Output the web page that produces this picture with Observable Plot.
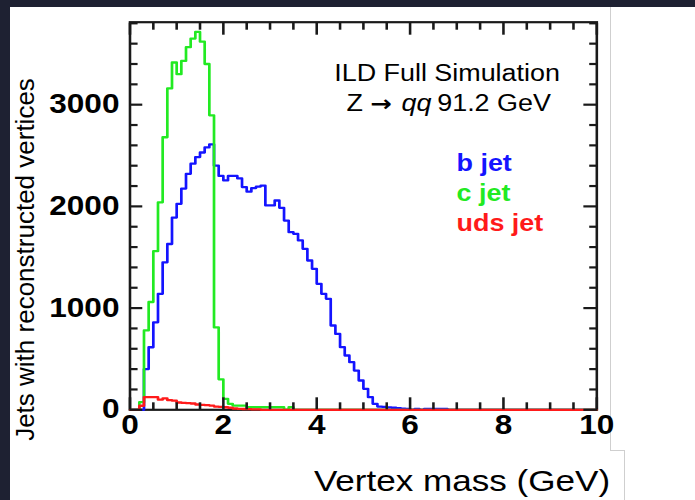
<!DOCTYPE html>
<html><head><meta charset="utf-8">
<script src="https://cdn.jsdelivr.net/npm/d3@7"></script>
<script src="https://cdn.jsdelivr.net/npm/@observablehq/plot@0.6"></script>
<style>
html,body{margin:0;padding:0;width:695px;height:500px;overflow:hidden;background:#1e2132;}
#panel{position:absolute;left:10px;top:7px;right:0;bottom:0;background:#fff;}
#chart{position:absolute;left:0;top:0;width:594px;height:500px;transform:scaleX(1.17);transform-origin:0 0;}
.edge{position:absolute;background:#cfcfcf;}
</style></head><body>
<div id="panel"></div>
<div class="edge" style="left:610px;top:7px;width:1px;height:443px"></div>
<div class="edge" style="left:610px;top:450px;width:14px;height:1px"></div>
<div class="edge" style="left:624px;top:450px;width:1px;height:50px"></div>
<div id="chart"></div>
<script>
// ---- data (histograms, 0.1 GeV bins from 0 to 10 GeV) ----
const bJet = [0,0,0,400,615,860,1140,1450,1630,1890,2025,2175,2320,2420,2485,2530,2580,2610,
  2400,2300,2255,2300,2300,2275,2190,2145,2180,2195,2205,2009,2009,2058,1986,1861,1746,1730,
  1665,1583,1468,1386,1239,1140,1091,829,746,616,534,468,386,288,206,124,59,32,28,24,20,15,12,10,
  0,8,0,8,8,8,8,8];
const cJet = [0,0,75,780,1060,1560,2040,2680,3160,3415,3300,3430,3565,3650,3715,3620,3400,2895,
  810,300,108,59,42,42,42,26,26,26,26,26,26,26,26,0,26];
const udsJet = [0,0,40,125,125,125,100,112,95,90,72,68,65,62,52,48,45,42,32,28,25,20,13,10,8,6,5,4];
const seriesNames = ["b jet", "c jet", "uds jet"];
const seriesColors = ["#1414ff", "#22ea22", "#ff1a1a"];
const xMajor = [0, 2, 4, 6, 8, 10];
const xMinor = [0.5,1,1.5,2.5,3,3.5,4.5,5,5.5,6.5,7,7.5,8.5,9,9.5];
const yMajor = [0, 1000, 2000, 3000];
const yMinor = [200,400,600,800,1200,1400,1600,1800,2200,2400,2600,2800,3200,3400,3600,3800];
const xTitle = "Vertex mass (GeV)";
const yTitle = "Jets with reconstructed vertices";
const note1 = "ILD Full Simulation";
const note2 = ["Z", "\u2192", "qq", "91.2 GeV"];

const binEdges = d3.range(0, 100).map(i => i / 10);
function rows(vals, name) {
  const r = binEdges.map((x, i) => ({x, y: vals[i] ?? 0, name}));
  r.push({x: 10, y: 0, name});
  return r;
}
const S = 1.17;
const ink = "#1a1a1a";
const tickOpts = {fill: "none", stroke: ink, strokeWidth: 2.2};
const txt = (arr, o) => Plot.text(arr, {text: d => d, frameAnchor: "top-left", lineAnchor: "bottom", textAnchor: "start", fill: "#000", ...o});

const chart = Plot.plot({
  width: 594, height: 500,
  marginLeft: 110.6, marginRight: 84.4, marginTop: 21.7, marginBottom: 90.7,
  style: {background: "transparent", fontFamily: "'Liberation Sans', Arial, sans-serif", overflow: "visible"},
  x: {domain: [0, 10]},
  y: {domain: [0, 3811]},
  marks: [
    Plot.frame({stroke: ink, strokeWidth: 2.2}),
    Plot.line(rows(bJet, seriesNames[0]), {x: "x", y: "y", curve: "step-after", stroke: seriesColors[0], strokeWidth: 2.3}),
    Plot.line(rows(cJet, seriesNames[1]), {x: "x", y: "y", curve: "step-after", stroke: seriesColors[1], strokeWidth: 2.3}),
    Plot.line(rows(udsJet, seriesNames[2]), {x: "x", y: "y", curve: "step-after", stroke: seriesColors[2], strokeWidth: 2.3}),
    Plot.axisX(xMinor, {anchor: "bottom", tickSize: -7, ...tickOpts}),
    Plot.axisX(xMajor, {anchor: "bottom", tickSize: -12, ...tickOpts}),
    Plot.axisX(xMinor, {anchor: "top", tickSize: -7, ...tickOpts}),
    Plot.axisX(xMajor, {anchor: "top", tickSize: -12, ...tickOpts}),
    Plot.axisY(yMinor, {anchor: "left", tickSize: -7, ...tickOpts}),
    Plot.axisY(yMajor, {anchor: "left", tickSize: -11, ...tickOpts}),
    Plot.axisY(yMinor, {anchor: "right", tickSize: -7, ...tickOpts}),
    Plot.axisY(yMajor, {anchor: "right", tickSize: -12, ...tickOpts}),
    Plot.axisX(xMajor, {anchor: "bottom", tickSize: 0, tickPadding: 5, label: null, fontSize: 27, fontWeight: "bold", fill: "#000", tickFormat: d => `${d}`}),
    Plot.axisY(yMajor, {anchor: "left", tickSize: 0, tickPadding: 9, label: null, fontSize: 27, fontWeight: "bold", fill: "#000", tickFormat: d => `${d}`}),
    txt([note1], {dx: 271, dy: 58.3, textAnchor: "middle", fontSize: 23}),
    txt([note2[0]], {dx: 185.1, dy: 88.3, fontSize: 23}),
    txt([note2[1]], {dx: 205.5, dy: 88.3, fontSize: 22, fontWeight: "bold", fontFamily: "'DejaVu Sans', sans-serif"}),
    txt([note2[2]], {dx: 232.1, dy: 88.3, fontSize: 23, fontStyle: "italic"}),
    txt([note2[3]], {dx: 262.6, dy: 88.3, fontSize: 23}),
    txt([seriesNames[0]], {dx: 279.1, dy: 148.3, fontSize: 23, fontWeight: "bold", fill: seriesColors[0]}),
    txt([seriesNames[1]], {dx: 279.1, dy: 178.3, fontSize: 23, fontWeight: "bold", fill: seriesColors[1]}),
    txt([seriesNames[2]], {dx: 279.1, dy: 208.8, fontSize: 23, fontWeight: "bold", fill: seriesColors[2]}),
    Plot.text([xTitle], {text: d => d, frameAnchor: "bottom-right", textAnchor: "end", lineAnchor: "bottom", dx: 11.4, dy: 80.7, fontSize: 30, fill: "#000"}),
    Plot.text([yTitle], {text: d => d, frameAnchor: "left", textAnchor: "middle", lineAnchor: "bottom", rotate: -90, dx: -82.1, dy: 43.5, fontSize: 26, fill: "#000"})
  ]
});
document.getElementById("chart").appendChild(chart);
// undo the horizontal stretch for the vertical title's glyph height
chart.querySelectorAll("text").forEach(t => {
  if (t.textContent === yTitle) {
    const tr = t.getAttribute("transform") || "";
    t.setAttribute("transform", tr + ` scale(1,${1 / S})`);
  }
});
</script>
</body></html>
